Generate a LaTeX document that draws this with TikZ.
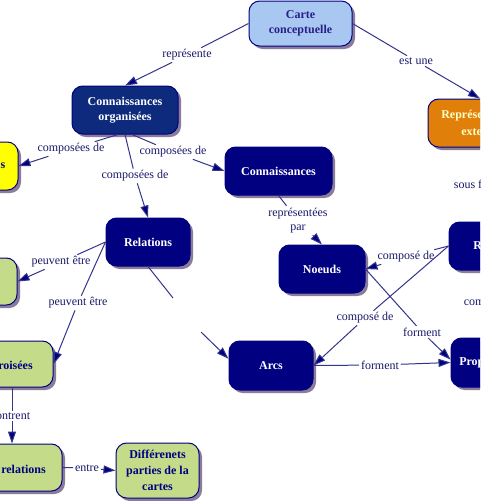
\documentclass[tikz,border=0pt]{standalone}
\usepackage{fontspec}
\setmainfont{Liberation Serif}
\usetikzlibrary{arrows.meta,shadows}
\definecolor{navyfill}{HTML}{000080}
\definecolor{cofill}{HTML}{0E2A7C}
\definecolor{lightblue}{HTML}{A8C8F2}
\definecolor{orangefill}{HTML}{E0800A}
\definecolor{greenfill}{HTML}{C4DC8A}
\definecolor{yellowfill}{HTML}{FFFF00}
\definecolor{linecol}{HTML}{34348C}
\definecolor{labelcol}{HTML}{1A1A6A}
\definecolor{shadowcol}{HTML}{8C7C9C}
\definecolor{paleyellow}{HTML}{FFFFC8}
\definecolor{carttext}{HTML}{2A1E88}
\tikzset{
  concept/.style={draw=navyfill, line width=0.75pt, rounded corners=8pt,
    font=\bfseries\fontsize{9}{11.25}\selectfont, align=center, inner sep=0pt,
    drop shadow={shadow xshift=2.25pt, shadow yshift=-2.25pt, fill=shadowcol, opacity=1}},
  darkc/.style={concept, fill=navyfill, text=white},
  coc/.style={concept, fill=cofill, text=white},
  bluec/.style={concept, fill=lightblue, text=carttext},
  orangec/.style={concept, fill=orangefill, text=paleyellow},
  greenc/.style={concept, fill=greenfill, text=navyfill},
  yellowc/.style={concept, fill=yellowfill, text=navyfill},
  cuttext/.style={font=\bfseries\fontsize{9}{11.25}\selectfont, inner sep=0pt},
  lbl/.style={font=\fontsize{9}{11}\selectfont, text=labelcol, inner sep=1.2pt, align=center},
  conn/.style={draw=linecol, line width=0.75pt},
  arr/.style={conn, -{Triangle[length=9pt, width=6pt, fill=navyfill]}}
}
\begin{document}
\begin{tikzpicture}[x=0.75pt, y=-0.75pt]
\useasboundingbox (0,0) rectangle (480,501);
\clip (0,0) rectangle (480,501);
\fill[white] (0,0) rectangle (480,501);

% concepts
\node[bluec, minimum width=77.25pt, minimum height=33.75pt] (carte) at (300.5,23.5) {Carte\\conceptuelle};
\node[coc, minimum width=79.5pt, minimum height=36pt] (co) at (125,110) {Connaissances\\organisées};
\node[yellowc, minimum width=60pt, minimum height=36pt] (yellow) at (-22,166) {};
\node[cuttext, text=navyfill, anchor=east] (ytext) at (5.5,166) {s};
\node[darkc, minimum width=80.25pt, minimum height=36pt] (conn) at (278.5,171) {Connaissances};
\node[darkc, minimum width=63pt, minimum height=36pt] (rel) at (148,242) {Relations};
\node[orangec, minimum width=78pt, minimum height=36pt] (orange) at (480,123) {};
\node[cuttext, text=paleyellow, anchor=west] (otext1) at (441,116) {Représe};
\node[cuttext, text=paleyellow, anchor=west] (otext2) at (461,132) {exte};
\node[darkc, minimum width=64.5pt, minimum height=36pt] (noeuds) at (322,269) {Noeuds};
\node[darkc, minimum width=63pt, minimum height=36pt] (R) at (491,246) {};
\node[cuttext, text=white, anchor=west] (rtext) at (473,246) {R};
\node[darkc, minimum width=63pt, minimum height=36.75pt] (arcs) at (271,365.5) {Arcs};
\node[darkc, minimum width=61.5pt, minimum height=36.75pt] (prop) at (492,362.5) {};
\node[cuttext, text=white, anchor=west] (ptext) at (459,363) {Prop};
\node[greenc, minimum width=60pt, minimum height=35.25pt] (green1) at (-23,281.5) {};
\node[greenc, minimum width=61.5pt, minimum height=34.5pt] (croisees) at (12,364) {};
\node[cuttext, text=navyfill, anchor=east] (ctext) at (33,365) {roisées};
\node[greenc, minimum width=75pt, minimum height=35.25pt] (relations2) at (12,467.5) {};
\node[cuttext, text=navyfill, anchor=east] (r2text) at (46,469) {relations};
\node[greenc, minimum width=62.25pt, minimum height=41.25pt, font=\bfseries\fontsize{9}{12}\selectfont] (diff) at (157.5,470.5) {Différenets\\parties de la\\cartes};

% linking phrases
\node[lbl] (lrep) at (187,55) {représente};
\node[lbl] (lest) at (416,61) {est une};
\node[lbl] (lcompL) at (71,149) {composées de};
\node[lbl] (lcompR) at (173,152) {composées de};
\node[lbl] (lcompM) at (135,176) {composées de};
\node[lbl] (lreppar) at (298,220.5) {représentées\\par};
\node[lbl, anchor=west] (lsous) at (452,184) {sous f};
\node[lbl] (lcomposeU) at (406,257) {composé de};
\node[lbl] (lcomposeL) at (365,318) {composé de};
\node[lbl] (lformD) at (422,332) {forment};
\node[lbl] (lformH) at (380,365) {forment};
\node[lbl, anchor=west] (lcom) at (462,303) {com};
\node[lbl] (lpeuvU) at (61,262) {peuvent être};
\node[lbl] (lpeuvL) at (78,303) {peuvent être};
\node[lbl, anchor=east] (lmontrent) at (32,416) {ontrent};
\node[lbl] (lentre) at (87,468) {entre};

\coordinate (g1) at (173,298);
\coordinate (g2) at (201,332);

% connectors
\draw[conn] (carte.west) -- (lrep);
\draw[arr] (lrep) -- (co.north);
\draw[conn] (carte.east) -- (lest);
\draw[arr] (lest) -- (orange.north);
\draw[conn] (co.254) -- (lcompL);
\draw[arr] (lcompL) -- (yellow.east);
\draw[conn] (co.286) -- (lcompR);
\draw[arr] (lcompR) -- (conn.west);
\draw[conn] (co.south) -- (lcompM);
\draw[arr] (lcompM) -- (rel.north);
\draw[conn] (conn.south) -- (lreppar);
\draw[arr] (lreppar) -- (noeuds.north);
\draw[conn] (R.west) -- (lcomposeU);
\draw[arr] (lcomposeU) -- (noeuds.east);
\draw[conn] (R.west) -- (lcomposeL);
\draw[arr] (lcomposeL) -- (arcs.east);
\draw[conn] (noeuds.east) -- (lformD);
\draw[arr] (lformD) -- (prop.176);
\draw[conn] (arcs.east) -- (lformH);
\draw[arr] (lformH) -- (prop.west);
\draw[conn] (rel.south) -- (g1);
\draw[arr] (g2) -- (arcs.171);
\draw[conn] (rel.west) -- (lpeuvU);
\draw[arr] (lpeuvU) -- (green1.east);
\draw[conn] (rel.west) -- (lpeuvL);
\draw[arr] (lpeuvL) -- (croisees.east);
\draw[conn] (croisees.south) -- (croisees.south |- lmontrent.north);
\draw[arr] (relations2.north |- lmontrent.south) -- (relations2.north);
\draw[conn] (relations2.east) -- (lentre);
\draw[arr] (lentre) -- (diff.west);
\end{tikzpicture}
\end{document}
